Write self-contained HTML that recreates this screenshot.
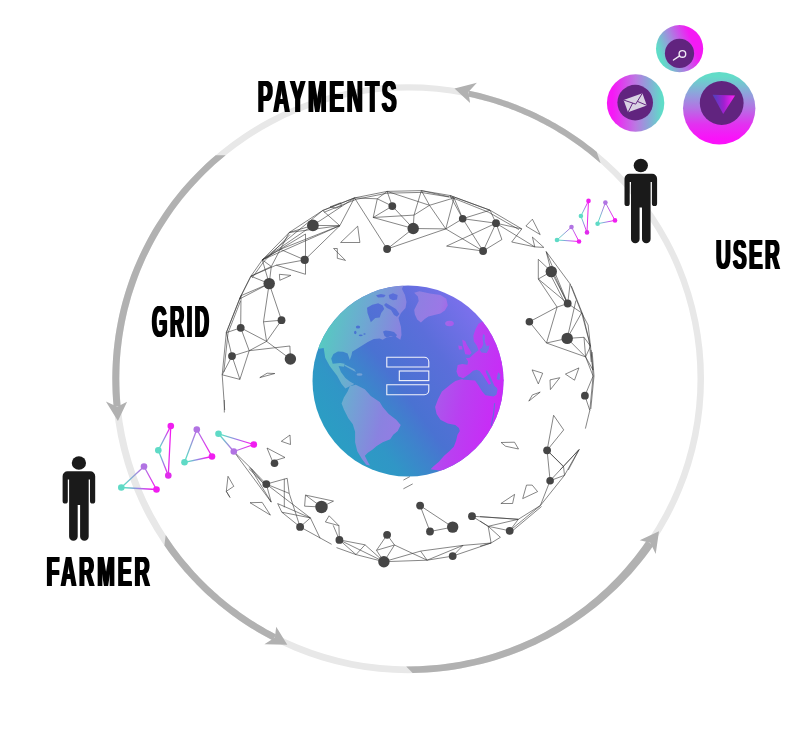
<!DOCTYPE html>
<html><head><meta charset="utf-8"><title>Grid</title>
<style>
html,body{margin:0;padding:0;background:#fff;}
body{width:800px;height:736px;overflow:hidden;}
svg{display:block;}
text{font-family:"Liberation Sans",sans-serif;font-weight:700;fill:#000;}
</style></head><body>
<svg width="800" height="736" viewBox="0 0 800 736">
<defs><linearGradient id="lg1" gradientUnits="userSpaceOnUse" x1="121.3" y1="487.5" x2="144" y2="466.5"><stop offset="0.15" stop-color="#5fdac6"/><stop offset="0.85" stop-color="#b173e3"/></linearGradient><linearGradient id="lg2" gradientUnits="userSpaceOnUse" x1="144" y1="466.5" x2="156.5" y2="489.5"><stop offset="0.15" stop-color="#b173e3"/><stop offset="0.85" stop-color="#f01ef0"/></linearGradient><linearGradient id="lg3" gradientUnits="userSpaceOnUse" x1="156.5" y1="489.5" x2="121.3" y2="487.5"><stop offset="0.15" stop-color="#f01ef0"/><stop offset="0.5" stop-color="#9c7ee6"/><stop offset="0.85" stop-color="#5fdac6"/></linearGradient><linearGradient id="lg4" gradientUnits="userSpaceOnUse" x1="158.3" y1="450.3" x2="170.8" y2="426"><stop offset="0.15" stop-color="#5fdac6"/><stop offset="0.5" stop-color="#9c7ee6"/><stop offset="0.85" stop-color="#f01ef0"/></linearGradient><linearGradient id="lg5" gradientUnits="userSpaceOnUse" x1="170.8" y1="426" x2="168.3" y2="475.5"><stop offset="0.15" stop-color="#f01ef0"/><stop offset="0.85" stop-color="#e02cec"/></linearGradient><linearGradient id="lg6" gradientUnits="userSpaceOnUse" x1="168.3" y1="475.5" x2="158.3" y2="450.3"><stop offset="0.15" stop-color="#e02cec"/><stop offset="0.5" stop-color="#9c7ee6"/><stop offset="0.85" stop-color="#5fdac6"/></linearGradient><linearGradient id="lg7" gradientUnits="userSpaceOnUse" x1="184.5" y1="462.3" x2="196.8" y2="429.5"><stop offset="0.15" stop-color="#5fdac6"/><stop offset="0.85" stop-color="#b173e3"/></linearGradient><linearGradient id="lg8" gradientUnits="userSpaceOnUse" x1="196.8" y1="429.5" x2="212" y2="456.5"><stop offset="0.15" stop-color="#b173e3"/><stop offset="0.85" stop-color="#f01ef0"/></linearGradient><linearGradient id="lg9" gradientUnits="userSpaceOnUse" x1="212" y1="456.5" x2="184.5" y2="462.3"><stop offset="0.15" stop-color="#f01ef0"/><stop offset="0.5" stop-color="#9c7ee6"/><stop offset="0.85" stop-color="#5fdac6"/></linearGradient><linearGradient id="lg10" gradientUnits="userSpaceOnUse" x1="218.5" y1="433.8" x2="233.8" y2="451.5"><stop offset="0.15" stop-color="#5fdac6"/><stop offset="0.85" stop-color="#b173e3"/></linearGradient><linearGradient id="lg11" gradientUnits="userSpaceOnUse" x1="233.8" y1="451.5" x2="253.8" y2="444.5"><stop offset="0.15" stop-color="#b173e3"/><stop offset="0.85" stop-color="#f01ef0"/></linearGradient><linearGradient id="lg12" gradientUnits="userSpaceOnUse" x1="253.8" y1="444.5" x2="218.5" y2="433.8"><stop offset="0.15" stop-color="#f01ef0"/><stop offset="0.5" stop-color="#9c7ee6"/><stop offset="0.85" stop-color="#5fdac6"/></linearGradient><linearGradient id="lg13" gradientUnits="userSpaceOnUse" x1="557" y1="240" x2="571.5" y2="227"><stop offset="0.15" stop-color="#5fdac6"/><stop offset="0.85" stop-color="#b173e3"/></linearGradient><linearGradient id="lg14" gradientUnits="userSpaceOnUse" x1="571.5" y1="227" x2="579" y2="241.5"><stop offset="0.15" stop-color="#b173e3"/><stop offset="0.85" stop-color="#f01ef0"/></linearGradient><linearGradient id="lg15" gradientUnits="userSpaceOnUse" x1="579" y1="241.5" x2="557" y2="240"><stop offset="0.15" stop-color="#f01ef0"/><stop offset="0.5" stop-color="#9c7ee6"/><stop offset="0.85" stop-color="#5fdac6"/></linearGradient><linearGradient id="lg16" gradientUnits="userSpaceOnUse" x1="580.9" y1="216" x2="588.5" y2="200.9"><stop offset="0.15" stop-color="#5fdac6"/><stop offset="0.5" stop-color="#9c7ee6"/><stop offset="0.85" stop-color="#f01ef0"/></linearGradient><linearGradient id="lg17" gradientUnits="userSpaceOnUse" x1="588.5" y1="200.9" x2="587" y2="232.4"><stop offset="0.15" stop-color="#f01ef0"/><stop offset="0.85" stop-color="#e02cec"/></linearGradient><linearGradient id="lg18" gradientUnits="userSpaceOnUse" x1="587" y1="232.4" x2="580.9" y2="216"><stop offset="0.15" stop-color="#e02cec"/><stop offset="0.5" stop-color="#9c7ee6"/><stop offset="0.85" stop-color="#5fdac6"/></linearGradient><linearGradient id="lg19" gradientUnits="userSpaceOnUse" x1="597.6" y1="223.7" x2="605.4" y2="202.6"><stop offset="0.15" stop-color="#5fdac6"/><stop offset="0.85" stop-color="#b173e3"/></linearGradient><linearGradient id="lg20" gradientUnits="userSpaceOnUse" x1="605.4" y1="202.6" x2="615" y2="220.4"><stop offset="0.15" stop-color="#b173e3"/><stop offset="0.85" stop-color="#f01ef0"/></linearGradient><linearGradient id="lg21" gradientUnits="userSpaceOnUse" x1="615" y1="220.4" x2="597.6" y2="223.7"><stop offset="0.15" stop-color="#f01ef0"/><stop offset="0.5" stop-color="#9c7ee6"/><stop offset="0.85" stop-color="#5fdac6"/></linearGradient><clipPath id="gclip"><circle cx="408.0" cy="381.0" r="95.5"/></clipPath><linearGradient id="ocean" gradientUnits="userSpaceOnUse" x1="325" y1="440" x2="490" y2="320"><stop offset="0" stop-color="#2a9fc3"/><stop offset="0.2" stop-color="#3096c6"/><stop offset="0.34" stop-color="#3e83cc"/><stop offset="0.45" stop-color="#4a72d2"/><stop offset="0.7" stop-color="#5b6eda"/><stop offset="0.95" stop-color="#7a70ec"/></linearGradient><linearGradient id="land" gradientUnits="userSpaceOnUse" x1="318" y1="360" x2="500" y2="400"><stop offset="0" stop-color="#58c8c2"/><stop offset="0.2" stop-color="#6ea8d2"/><stop offset="0.4" stop-color="#8a82e0"/><stop offset="0.58" stop-color="#9b78e6"/><stop offset="0.68" stop-color="#ac55ec"/><stop offset="0.8" stop-color="#b940f1"/><stop offset="1" stop-color="#ca2af7"/></linearGradient><filter id="fat" x="-5%" y="-5%" width="110%" height="110%"><feOffset in="SourceGraphic" dx="-0.75" result="a"/><feOffset in="SourceGraphic" dx="0.75" result="b"/><feOffset in="SourceGraphic" dx="-0.4" result="c"/><feOffset in="SourceGraphic" dx="0.4" result="d"/><feMerge><feMergeNode in="a"/><feMergeNode in="c"/><feMergeNode in="SourceGraphic"/><feMergeNode in="d"/><feMergeNode in="b"/></feMerge></filter><linearGradient id="c1" x1="0.02" y1="0.68" x2="0.98" y2="0.32"><stop offset="0.08" stop-color="#5fdcc8"/><stop offset="0.42" stop-color="#a884e0"/><stop offset="0.8" stop-color="#f41af4"/></linearGradient><linearGradient id="c2" x1="0" y1="0.5" x2="1" y2="0.5"><stop offset="0.1" stop-color="#f618f6"/><stop offset="0.5" stop-color="#bb78e2"/><stop offset="0.72" stop-color="#8ca4d8"/><stop offset="0.95" stop-color="#5fdcc8"/></linearGradient><linearGradient id="c3" x1="0.5" y1="0" x2="0.5" y2="1"><stop offset="0.06" stop-color="#62dcc8"/><stop offset="0.3" stop-color="#8fa2dc"/><stop offset="0.5" stop-color="#b472e4"/><stop offset="0.72" stop-color="#e232f0"/><stop offset="0.92" stop-color="#fa12fa"/></linearGradient><linearGradient id="c4" x1="0" y1="0" x2="1" y2="0"><stop offset="0.1" stop-color="#5a3cc0"/><stop offset="0.5" stop-color="#a020d0"/><stop offset="0.9" stop-color="#f020f0"/></linearGradient></defs>
<g id="ring"><path fill-rule="evenodd" fill="#e8e8e8" d="M112.3,378.7 a295.85,294.3 0 1 0 591.7,0 a295.85,294.3 0 1 0 -591.7,0z M119.3,378.4 a289.1,288.0 0 1 0 578.2,0 a289.1,288.0 0 1 0 -578.2,0z"/><polygon points="596.8,152 594.1,149.8 591.3,147.6 588.4,145.4 585.6,143.2 582.7,141.1 579.8,139 576.9,136.9 573.9,134.9 570.9,133 567.9,131 564.9,129.1 561.9,127.2 558.8,125.4 555.7,123.6 552.6,121.9 549.4,120.1 546.3,118.5 543.1,116.8 539.9,115.2 536.7,113.6 533.5,112.1 530.2,110.6 527,109.2 523.7,107.8 520.4,106.4 517.1,105.1 513.7,103.8 510.4,102.5 507,101.3 503.6,100.2 500.3,99 496.8,97.9 493.4,96.9 490,95.9 486.6,94.9 483.1,94 479.7,93.1 476.2,92.3 472.7,91.5 469.2,90.7 468,96.6 471.4,97.3 474.8,98.1 478.2,98.9 481.6,99.8 485,100.7 488.3,101.6 491.7,102.6 495,103.6 498.4,104.7 501.7,105.8 505,107 508.3,108.1 511.6,109.4 514.8,110.6 518.1,111.9 521.3,113.3 524.5,114.7 527.7,116.1 530.9,117.5 534.1,119 537.2,120.6 540.4,122.2 543.5,123.8 546.6,125.4 549.6,127.1 552.7,128.8 555.7,130.6 558.7,132.4 561.7,134.2 564.7,136.1 567.6,138 570.5,139.9 573.4,141.9 576.3,143.9 579.1,146 581.9,148.1 584.7,150.2 587.5,152.3 590.2,154.5 600.6,163.3" fill="#b1b1b1"/><polygon points="454.5,88.4 476.9,82.8 468.4,92 470.1,102.9" fill="#b1b1b1"/><polygon points="215.7,155.2 210.4,159.8 205.2,164.5 200.2,169.4 195.2,174.4 190.4,179.5 185.6,184.8 181,190.1 176.6,195.5 172.2,201.1 168,206.8 164,212.5 160.1,218.4 156.3,224.3 152.6,230.3 149.1,236.5 145.8,242.7 142.6,249 139.6,255.3 136.7,261.7 133.9,268.2 131.3,274.8 128.9,281.4 126.7,288.1 124.6,294.8 122.6,301.6 120.8,308.5 119.2,315.3 117.8,322.2 116.5,329.2 115.4,336.1 114.5,343.1 113.7,350.2 113.1,357.2 112.7,364.2 112.4,371.3 112.3,378.3 112.4,385.4 112.6,392.4 113,399.5 113.6,406.5 120.6,405.9 120,399 119.6,392.1 119.4,385.2 119.3,378.3 119.4,371.5 119.6,364.6 120,357.7 120.6,350.8 121.4,344 122.3,337.1 123.4,330.3 124.6,323.6 126,316.8 127.5,310.1 129.3,303.4 131.1,296.8 133.2,290.2 135.4,283.7 137.7,277.2 140.2,270.8 142.9,264.4 145.7,258.1 148.7,251.9 151.8,245.8 155,239.7 158.4,233.7 162,227.8 165.7,222 169.5,216.2 173.4,210.6 177.5,205.1 181.7,199.6 186.1,194.3 190.6,189.1 195.2,183.9 199.9,178.9 204.7,174 209.7,169.2 214.7,164.6 225.7,155.2" fill="#b1b1b1"/><polygon points="117.9,421 105.9,401.4 117.2,406.7 127.1,401.8" fill="#b1b1b1"/><polygon points="164.4,545.5 166.5,548.5 168.6,551.4 170.8,554.4 173,557.3 175.2,560.2 177.5,563 179.8,565.8 182.1,568.6 184.5,571.4 186.9,574.1 189.4,576.8 191.9,579.5 194.4,582.1 196.9,584.7 199.5,587.3 202.1,589.9 204.7,592.4 207.4,594.9 210.1,597.3 212.8,599.7 215.6,602.1 218.3,604.4 221.2,606.8 224,609 226.9,611.3 229.8,613.5 232.7,615.7 235.6,617.8 238.6,619.9 241.6,621.9 244.6,624 247.7,625.9 250.8,627.9 253.9,629.8 257,631.7 260.1,633.5 263.3,635.3 266.5,637.1 269.7,638.8 272.9,640.4 276,634.4 272.9,632.8 269.7,631.1 266.6,629.4 263.5,627.6 260.5,625.8 257.4,624 254.4,622.1 251.4,620.2 248.4,618.3 245.5,616.3 242.5,614.3 239.6,612.2 236.8,610.1 233.9,608 231.1,605.9 228.3,603.7 225.5,601.4 222.8,599.2 220,596.9 217.4,594.6 214.7,592.2 212.1,589.8 209.5,587.4 206.9,584.9 204.4,582.4 201.9,579.9 199.4,577.4 196.9,574.8 194.5,572.2 192.1,569.5 189.8,566.8 187.5,564.1 185.2,561.4 182.9,558.7 180.7,555.9 178.5,553.1 176.4,550.2 174.3,547.4 172.2,544.5 165.7,534.9" fill="#b1b1b1"/><polygon points="287.3,644.7 264.4,644.3 274.9,637.6 276.2,626.7" fill="#b1b1b1"/><polygon points="412.6,673 419.7,672.8 426.7,672.4 433.7,671.9 440.8,671.2 447.8,670.4 454.7,669.4 461.7,668.2 468.6,666.8 475.5,665.3 482.4,663.7 489.2,661.9 496,659.9 502.7,657.7 509.4,655.4 516,653 522.5,650.4 529,647.6 535.5,644.7 541.8,641.6 548.1,638.4 554.3,635 560.5,631.5 566.5,627.8 572.5,624 578.4,620.1 584.1,616 589.8,611.8 595.4,607.4 600.9,602.9 606.3,598.3 611.5,593.6 616.7,588.7 621.7,583.7 626.7,578.6 631.5,573.4 636.1,568 640.7,562.6 645.1,557 649.4,551.3 653.5,545.6 646.5,540.8 642.5,546.4 638.4,552 634.2,557.4 629.8,562.8 625.4,568.1 620.7,573.2 616,578.2 611.2,583.1 606.2,587.9 601.1,592.6 595.9,597.2 590.6,601.6 585.2,605.9 579.7,610.1 574.1,614.1 568.4,618 562.6,621.7 556.8,625.4 550.8,628.8 544.8,632.2 538.6,635.4 532.5,638.4 526.2,641.3 519.9,644 513.5,646.6 507,649 500.5,651.3 493.9,653.4 487.3,655.4 480.7,657.2 474,658.9 467.2,660.3 460.5,661.7 453.7,662.8 446.9,663.8 440,664.7 433.2,665.3 426.3,665.8 419.4,666.2 406.2,666.4" fill="#b1b1b1"/><polygon points="659,531.3 655.7,554.1 650.4,542.8 639.7,540.3" fill="#b1b1b1"/></g>
<g id="mesh" fill="none" stroke="#343434" stroke-width="0.6" stroke-linejoin="round"><polyline points="239.5,299 250.9,276.2 262.3,259.9 289.2,232.5 322.7,210.5 354.5,197.9 387.1,191.4 421.4,190.6 450,195.5 490,210.2 521.8,228.9"/><polyline points="262.3,259.9 312.9,225.4"/><polyline points="262.3,259.9 339.8,225.7"/><polyline points="262.3,259.9 322.7,210.5"/><polyline points="289.2,232.5 312.9,225.4"/><polyline points="322.7,210.5 339.8,225.7"/><polyline points="312.9,225.4 339.8,225.7"/><polyline points="312.9,225.4 354.5,197.9"/><polyline points="280.3,249.3 339.8,225.7"/><polyline points="305.5,234 305.5,274.3"/><polyline points="339.8,225.7 304.7,259.9"/><polyline points="280.3,249.3 304.7,259.9"/><polyline points="304.7,259.9 276.2,265.2 250.9,276.2"/><polyline points="276.2,265.2 305.5,274.3"/><polyline points="280.3,249.3 271.3,266.5 269.2,283.6"/><polyline points="262.3,259.9 271.3,266.5"/><polyline points="262.3,259.9 269.2,283.6"/><polyline points="269.2,283.6 250.9,276.2"/><polyline points="269.2,283.6 239.5,299"/><polyline points="289.2,232.5 280.3,249.3"/><polyline points="262.3,259.9 280.3,249.3"/><polyline points="354.5,197.9 387.1,249"/><polyline points="354.5,197.9 339.8,225.7"/><polyline points="322.7,210.5 354.5,197.9"/><polyline points="377.3,198.8 354.5,197.9"/><polyline points="377.3,198.8 387.1,191.4"/><polyline points="377.3,198.8 373.2,217.5"/><polyline points="373.2,217.5 392.3,206.1"/><polyline points="387.1,191.4 392.3,206.1"/><polyline points="377.3,198.8 392.3,206.1"/><polyline points="392.3,206.1 413.2,228.5"/><polyline points="373.2,217.5 414,215.1"/><polyline points="373.2,217.5 413.2,228.5"/><polyline points="414,215.1 413.2,228.5"/><polyline points="421.4,190.6 414,215.1"/><polyline points="421.4,190.6 429.5,205.3"/><polyline points="429.5,205.3 414,215.1"/><polyline points="387.1,191.4 429.5,205.3"/><polyline points="413.2,228.5 445.8,228.9"/><polyline points="413.2,228.5 387.1,249"/><polyline points="387.1,249 445.8,228.9"/><polyline points="445.8,228.9 454,197.9"/><polyline points="429.5,205.3 445.8,228.9"/><polyline points="454,197.9 462.7,218.7"/><polyline points="421.4,190.6 454,197.9"/><polyline points="429.5,205.3 454,197.9"/><polyline points="450,195.5 462.7,218.7"/><polyline points="462.7,218.7 496,223.2"/><polyline points="462.7,218.7 483.1,251"/><polyline points="496,223.2 483.1,251"/><polyline points="496,223.2 501.9,239.5 483.1,251"/><polyline points="496,223.2 521.8,228.9"/><polyline points="490,210.2 496,223.2"/><polyline points="462.7,218.7 490,210.2"/><polyline points="483.1,251 445.8,228.9"/><polyline points="462.7,218.7 445.8,228.9"/><polyline points="450,195.5 490,210.2"/><polyline points="521.8,228.9 511.7,242 534.8,246.9 532.4,237.1 543.8,247.4 534.8,246.9"/><polyline points="496,223.2 534.8,246.9"/><polyline points="546.2,251.6 570.1,283.9 581.6,312.8 590.5,346.2 593,370"/><polyline points="546.2,251.6 551.3,271.6"/><polyline points="551.3,271.6 567.7,303.5"/><polyline points="538.3,259.3 538.3,279"/><polyline points="538.3,279 551.3,271.6"/><polyline points="538.3,259.3 551.3,271.6"/><polyline points="538.3,279 557.1,307.1"/><polyline points="538.3,279 567.7,303.5"/><polyline points="567.7,303.5 557.1,307.1"/><polyline points="557.1,307.1 529.4,321.8"/><polyline points="529.4,321.8 546.5,343"/><polyline points="557.1,307.1 546.5,343"/><polyline points="546.5,343 567.2,338.4"/><polyline points="546.5,343 585.6,356.9"/><polyline points="567.2,338.4 585.6,356.9"/><polyline points="567.2,338.4 584,337.3"/><polyline points="567.2,338.4 581.6,312.8"/><polyline points="567.7,303.5 581.6,312.8"/><polyline points="570.1,283.9 567.7,303.5"/><polyline points="585.6,356.9 590.5,346.2"/><polyline points="585.6,356.9 593,370"/><polyline points="581.6,312.8 588.1,325 590.5,346.2"/><polyline points="584,337.3 590.5,346.2"/><polyline points="584,337.3 585.6,356.9"/><polyline points="585.6,356.9 593.1,376.1"/><polyline points="591.1,350 593.1,376.1"/><polyline points="593.1,376.1 584.9,395.7"/><polyline points="593.1,376.1 589.8,410.4 585.4,428.6"/><polyline points="584.9,395.7 589.8,410.4"/><polyline points="547.1,450.3 553.6,415.3 563.7,429.9 547.1,450.3"/><polyline points="547.1,450.3 563.4,466.6"/><polyline points="547.1,450.3 550.1,480.7"/><polyline points="547.1,450.3 563.5,466.3"/><polyline points="578.7,450 563.5,466.3 550.1,480.7"/><polyline points="578.7,450 564.5,475.3 550.1,480.7"/><polyline points="563.5,466.3 564.5,475.3"/><polyline points="550.1,480.7 540.4,505.5"/><polyline points="564.5,475.3 540.4,505.5"/><polyline points="540.4,505.5 518.3,519.3"/><polyline points="540.4,505.5 509.7,530.8"/><polyline points="518.3,519.3 480,516.6"/><polyline points="518.3,519.3 488.2,526.3"/><polyline points="488.2,526.3 509.7,530.8"/><polyline points="488.2,526.3 500.4,537.3 491.1,543 488.2,526.3"/><polyline points="491.1,543 480,546.2"/><polyline points="488.2,526.3 480,521"/><polyline points="509.7,530.8 518.3,519.3"/><polyline points="420.1,505.6 452.7,527.1"/><polyline points="420.1,505.6 430,531.5"/><polyline points="430,531.5 452.7,527.1"/><polyline points="472,516.2 518.3,519.3"/><polyline points="472,516.2 488.2,526.3"/><polyline points="491.1,543 452.7,556.1"/><polyline points="491.1,543 463,545.4 420.6,551.1"/><polyline points="463,545.4 452.7,556.1"/><polyline points="463,545.4 427.1,560.2"/><polyline points="387.1,534.8 394.5,545"/><polyline points="387.1,534.8 376.5,550.3"/><polyline points="394.5,545 383.9,561.7"/><polyline points="376.5,550.3 383.9,561.7"/><polyline points="394.5,545 427.1,560.2"/><polyline points="376.5,550.3 394.5,545"/><polyline points="383.9,561.7 427.1,560.2"/><polyline points="420.6,551.1 427.1,560.2"/><polyline points="452.7,556.1 427.1,560.2"/><polyline points="420.6,551.1 383.9,561.7"/><polyline points="233.8,451.5 250,467.3 266.3,484.1"/><polyline points="250,467.3 271.2,502.1"/><polyline points="266.3,484.1 271.2,502.1"/><polyline points="266.3,484.1 287.2,478.3 289.2,493.4 266.3,484.1"/><polyline points="266.3,484.1 310.4,517.9"/><polyline points="277.7,503.6 281.8,512.2 300.1,526.9"/><polyline points="277.7,503.6 310.4,517.9"/><polyline points="281.8,512.2 310.4,517.9"/><polyline points="300.1,526.9 310.4,517.9"/><polyline points="289.2,493.4 300.1,526.9"/><polyline points="310.4,517.9 320.1,538.3"/><polyline points="300.1,526.9 331.6,544.3"/><polyline points="305.5,495.1 333.5,501.1 321.5,507"/><polyline points="305.5,495.1 304.6,506.2 321.5,507"/><polyline points="305.5,495.1 321.5,507"/><polyline points="329.1,515.8 325.4,522 338.9,525.6 329.1,515.8"/><polyline points="333.2,525.3 339.4,539.9"/><polyline points="338.9,525.6 339.4,539.9"/><polyline points="339.4,539.9 365,544.8 356,554.6 339.4,539.9"/><polyline points="336.5,547.6 356,554.6"/><polyline points="356,554.6 383.9,561.7"/><polyline points="339.4,539.9 383.9,561.7"/><polyline points="365,544.8 383.9,561.7"/><polyline points="269.2,283.6 281.5,320.2"/><polyline points="269.2,283.6 263.5,321.8"/><polyline points="281.5,320.2 263.5,321.8"/><polyline points="263.5,321.8 266.6,341.4"/><polyline points="281.5,320.2 266.6,341.4"/><polyline points="240.7,327.8 266.6,341.4"/><polyline points="266.6,341.4 290.4,359"/><polyline points="266.6,341.4 249.2,350.7 232,356.1"/><polyline points="240.7,327.8 249.2,350.7 239.9,379.4"/><polyline points="249.2,350.7 289.9,346 290.4,359"/><polyline points="240.7,327.8 241,295.7"/><polyline points="240.7,327.8 226.3,332.7"/><polyline points="226.3,332.7 241,295.7"/><polyline points="226.3,332.7 222.2,374.8 224.7,410"/><polyline points="232,356.1 226.3,332.7"/><polyline points="232,356.1 222.2,374.8"/><polyline points="232,356.1 239.9,379.4"/><polyline points="222.2,374.8 239.9,379.4"/><polyline points="241,295.7 269.2,283.6"/><polyline points="241,295.7 239.5,299"/><polyline points="239.5,299 226.3,332.7"/><polyline points="241,295.7 250.9,276.2"/><polyline points="262.3,259.9 305.5,234"/><polyline points="567.2,338.4 575.9,300.6"/><polyline points="546.2,251.6 567.7,303.5"/><polyline points="250.9,276.2 271.3,266.5"/><polyline points="289.2,232.5 339.8,225.7"/><polyline points="446.6,246.1 496,223.2"/><polyline points="446.6,246.1 483.1,251"/><polyline points="233.8,451.5 271.2,502.1"/><polygon points="279.4,274.3 290.9,275.4 279.8,280.3"/><polygon points="330,206.9 340.6,202.8 341.4,206.1 335.7,208.1"/><polygon points="340.6,242.5 357.7,226.2 359.9,242.5"/><polygon points="333.6,248.5 337.3,248.5 337.3,258.3 345.5,260.4"/><polygon points="525.9,226 532.4,219.2 540.2,234.6"/><polygon points="532.1,369.9 542.7,373.2 538.3,383.9"/><polygon points="550,379.9 559.8,377.7 550.4,389.6"/><polygon points="565.4,374.1 578.9,367.9 574.5,380.2"/><polygon points="528.8,401.1 532.4,394.9 540.2,392.1"/><polygon points="501.1,442.5 514.5,442.2 518.5,449 505.5,446.2"/><polygon points="522.7,498.6 526.5,485.1 532.2,485.1 537.6,491.6"/><polygon points="500.9,503.5 514.6,494.4 512.6,503.5"/><polygon points="250,502.7 262.2,502.4 270.4,515.1"/><polygon points="281.3,441.3 290,435 290.5,444.5"/><polygon points="267,448 285,457.5 272.5,461.3"/><polyline points="228,476.3 233.8,486.3 226.3,491.3 230,497.5 226.3,491.3 228,476.3"/><polygon points="259.8,377.6 267.1,373.2 274.8,373.5"/><polyline points="403.4,480.1 410,476.5"/><polyline points="403.4,488.8 412.7,483.9"/><polyline points="224.3,400 224.3,412.5"/><polyline points="284.3,478.8 284.3,507.3"/><polyline points="579.4,449.2 560,470"/><polyline points="579.4,449.2 568.3,470"/><polyline points="452,197.6 488.5,212.2 519,229.6"/><polyline points="553.2,272.6 566.6,301.8"/><polyline points="549.8,273.4 565.6,304.2"/><polyline points="571.4,286 582.8,314.5 589,340 591.2,362"/><polyline points="324,212.3 345.5,203.6 355,199.8"/><polyline points="240.5,301 228,333 223.8,372"/><polyline points="252,278 263.5,262 290,234.5"/><polyline points="355,199.6 387,193.2 421,192.4 449,197"/><polyline points="251.5,468.8 265.5,486"/><polyline points="248.8,468.5 263.8,483.5"/><polyline points="592.2,352 594,376 590.8,409"/><polyline points="541.5,506.5 511,532"/></g>
<g id="meshdots" fill="#454545"><circle cx="312.9" cy="225.4" r="5.9"/><circle cx="304.7" cy="259.9" r="4.1"/><circle cx="269.2" cy="283.6" r="5.7"/><circle cx="392.3" cy="206.1" r="3.9"/><circle cx="413.2" cy="228.5" r="5.7"/><circle cx="387.1" cy="249" r="3.9"/><circle cx="462.7" cy="218.7" r="3.8"/><circle cx="496" cy="223.2" r="3.9"/><circle cx="483.1" cy="251" r="3.9"/><circle cx="551.3" cy="271.6" r="5.7"/><circle cx="567.7" cy="303.5" r="3.9"/><circle cx="529.4" cy="321.8" r="3.8"/><circle cx="567.2" cy="338.4" r="5.7"/><circle cx="584.9" cy="395.7" r="3.9"/><circle cx="547.1" cy="450.3" r="3.9"/><circle cx="550.1" cy="480.7" r="3.8"/><circle cx="509.7" cy="530.8" r="3.9"/><circle cx="420.1" cy="505.6" r="3.9"/><circle cx="452.7" cy="527.1" r="5.7"/><circle cx="430" cy="531.5" r="3.9"/><circle cx="472" cy="516.2" r="3.9"/><circle cx="387.1" cy="534.8" r="3.9"/><circle cx="383.9" cy="561.7" r="5.7"/><circle cx="452.7" cy="556.1" r="3.9"/><circle cx="274.5" cy="463.3" r="3.8"/><circle cx="266.3" cy="484.1" r="3.9"/><circle cx="321.5" cy="507" r="6.2"/><circle cx="300.1" cy="526.9" r="3.9"/><circle cx="339.4" cy="539.9" r="3.9"/><circle cx="281.5" cy="320.2" r="3.9"/><circle cx="240.7" cy="327.8" r="3.9"/><circle cx="232" cy="356.1" r="3.9"/><circle cx="290.4" cy="359" r="5.7"/></g>
<g id="globe" clip-path="url(#gclip)"><circle cx="408.0" cy="381.0" r="96.5" fill="url(#ocean)"/><g fill="url(#land)"><polygon points="412.5,284 300,270 300,352 323.7,348 325.2,357.7 329.7,366 337.1,375.7 341.6,384 345.4,388.5 349.8,386.2 354.3,384 349.8,381.6 345.4,377.9 340.9,371.9 338.6,366 343.9,366.7 344.6,363.7 340.1,363 332.7,363.7 331.2,358.5 333.4,354 337.9,351.4 343.1,351.7 347.6,353.5 349.8,360 351.6,354.7 352.1,351.7 355.8,349.5 361.8,345.8 367.8,342 373.8,339 379.7,338.6 382.7,339.8 386.5,337.5 394.7,336 400.3,339.8 401.5,335 401,327 398.5,318 401,313 405.5,308 406.5,302 405,295 402,289 404,284"/><polygon points="414.2,292.7 419.4,291.2 429.9,293.5 440.4,294.9 446.3,298.7 447.8,305.4 444.8,310.6 440.4,313.6 434.4,315.1 428.4,316.6 424.7,318.9 420.9,322.6 417.2,319.6 414.9,314.4 414.2,309.9 416.4,305.4 418.7,300.9 417.9,296.4"/><polygon points="349.8,386.2 355.8,384.7 364.8,389.2 370.8,395.9 379.7,401.9 382.7,407.1 388.7,413.9 396.2,419.8 400.7,425.1 397.7,431.1 393.2,434.8 390.2,439.3 382.7,442.3 376.7,446 372.3,449.7 367.8,452.7 364.8,455.7 367.8,461.7 370,465.4 366.3,464.7 361.8,458.7 357.3,451.2 355.1,442.3 355.1,431.8 352.8,424.3 348.3,418.3 343.9,409.4 341.6,403.4 343.9,397.4 347.6,391.4"/><polygon points="461.2,379.3 455.4,381 450.8,384.3 445,388.9 441.9,391.4 438.1,398.9 435.1,407.1 436.6,413.9 440.4,419.8 447.8,423.6 455.3,425.1 459,428.1 459.8,431.1 457.5,434.8 456.1,440.8 453.8,446.7 449.3,451.2 444.1,455.7 438.9,461.7 433.6,466.2 430.6,469.2 446,471.5 520,470 520,379.3"/><polygon points="478.5,323.7 475.6,328.9 473.3,335.8 473.9,341.6 476.8,345.6 478.5,350.2 475,353.1 472.1,355.4 469.8,357.7 465.8,358.3 468.1,361.2 467.5,364.7 462.3,364.1 457.7,364.9 456.5,371.6 458.3,376.2 462.3,377.9 470,381 520,381 520,320 492,316"/><polygon points="462.3,339.8 465.2,341 466.9,345 469.8,349.6 471.6,353.1 469.8,354.8 465.2,354.3 464.1,349.6 462.9,345"/><polygon points="458.3,345.6 462.1,346.2 462.5,349.6 458.9,349.6"/><ellipse cx="449.5" cy="323.5" rx="4.3" ry="2.7"/><path d="M344.6,364.5 L354.3,369.3 L356,372 L353,370.5 L344.5,365.8z"/><ellipse cx="359.5" cy="374.5" rx="3" ry="1.2"/></g><g fill="url(#ocean)"><polygon points="367,307.7 372.3,304.7 378.2,303.2 382.7,305.4 384.2,309.1 381.2,312.9 379.7,317.4 375.3,318.1 370.8,322.2 369.3,318.1 367.5,312.9"/><polygon points="383,331.5 385.5,330.5 390,331 394,332 397,335 395.5,337.5 391,336 387,337.5 384.5,336"/><polygon points="483.1,334.1 484.8,335.2 484.8,341.6 486.6,346.2 489.5,345.3 488.6,349.6 486.6,353.1 481.4,352.5 479.6,349.6 482,347.6 483.3,343.9 482.5,338.1"/><polygon points="498.1,372.2 500.4,374.5 499.5,380.2 496.7,379.1"/><polygon points="463,378.6 466.5,376 470,373.5 473,370.8 476.8,369.8 479.6,371 483.1,375.5 486.6,381 488.9,384.8 491,383.5 488.2,377.6 486,372.6 485.6,370.2 487.2,370.4 490,375.5 492.3,381 494.5,386 497,388 497.5,390.1 496.4,394.7 493.5,396.4 485.4,395.3 482,391.2 478.5,385.4 475,380.6 468.1,379.9 463,379.6"/><polygon points="384,305 387,308 391,310 394,315 397,316.8 399.5,314 396,309 391,306 386,303"/><polygon points="376,295.2 381,294 385.7,295 384,297.2 378,297.5"/><polygon points="388.7,295 393,293.2 397.7,295 397,299.5 393,300.2 389.5,298.5"/><ellipse cx="358" cy="327" rx="2.2" ry="1.6"/><ellipse cx="355.3" cy="332.5" rx="1.2" ry="1.8"/><ellipse cx="360.7" cy="335.3" rx="2" ry="0.9"/><ellipse cx="364.5" cy="334" rx="1.2" ry="0.8"/><path d="M494.6,403.2 Q494.2,414 491.3,425.6" fill="none" stroke="url(#ocean)" stroke-width="1.1"/></g></g><g fill="none" stroke="#f4f4fb" stroke-width="1.1"><path d="M386.8,357.2 H424.3 a4.5,4.5 0 0 1 4.5,4.5 V367 H386.8z"/><rect x="399.3" y="371" width="29.5" height="9.6"/><path d="M386.8,384.8 H428.8 V390.2 a4.5,4.5 0 0 1 -4.5,4.5 H386.8z"/></g>
<g id="tris" stroke-linecap="round"><line x1="121.3" y1="487.5" x2="144" y2="466.5" stroke="url(#lg1)" stroke-width="1.3"/><line x1="144" y1="466.5" x2="156.5" y2="489.5" stroke="url(#lg2)" stroke-width="1.3"/><line x1="156.5" y1="489.5" x2="121.3" y2="487.5" stroke="url(#lg3)" stroke-width="1.3"/><circle cx="121.3" cy="487.5" r="3.3" fill="#5fdac6"/><circle cx="144" cy="466.5" r="3.3" fill="#b173e3"/><circle cx="156.5" cy="489.5" r="3.3" fill="#f01ef0"/><line x1="158.3" y1="450.3" x2="170.8" y2="426" stroke="url(#lg4)" stroke-width="1.3"/><line x1="170.8" y1="426" x2="168.3" y2="475.5" stroke="url(#lg5)" stroke-width="1.3"/><line x1="168.3" y1="475.5" x2="158.3" y2="450.3" stroke="url(#lg6)" stroke-width="1.3"/><circle cx="158.3" cy="450.3" r="3.3" fill="#5fdac6"/><circle cx="170.8" cy="426" r="3.3" fill="#f01ef0"/><circle cx="168.3" cy="475.5" r="3.3" fill="#e02cec"/><line x1="184.5" y1="462.3" x2="196.8" y2="429.5" stroke="url(#lg7)" stroke-width="1.3"/><line x1="196.8" y1="429.5" x2="212" y2="456.5" stroke="url(#lg8)" stroke-width="1.3"/><line x1="212" y1="456.5" x2="184.5" y2="462.3" stroke="url(#lg9)" stroke-width="1.3"/><circle cx="184.5" cy="462.3" r="3.3" fill="#5fdac6"/><circle cx="196.8" cy="429.5" r="3.3" fill="#b173e3"/><circle cx="212" cy="456.5" r="3.3" fill="#f01ef0"/><line x1="218.5" y1="433.8" x2="233.8" y2="451.5" stroke="url(#lg10)" stroke-width="1.3"/><line x1="233.8" y1="451.5" x2="253.8" y2="444.5" stroke="url(#lg11)" stroke-width="1.3"/><line x1="253.8" y1="444.5" x2="218.5" y2="433.8" stroke="url(#lg12)" stroke-width="1.3"/><circle cx="218.5" cy="433.8" r="3.3" fill="#5fdac6"/><circle cx="233.8" cy="451.5" r="3.3" fill="#b173e3"/><circle cx="253.8" cy="444.5" r="3.3" fill="#f01ef0"/><line x1="557" y1="240" x2="571.5" y2="227" stroke="url(#lg13)" stroke-width="1.0"/><line x1="571.5" y1="227" x2="579" y2="241.5" stroke="url(#lg14)" stroke-width="1.0"/><line x1="579" y1="241.5" x2="557" y2="240" stroke="url(#lg15)" stroke-width="1.0"/><circle cx="557" cy="240" r="2.3" fill="#5fdac6"/><circle cx="571.5" cy="227" r="2.3" fill="#b173e3"/><circle cx="579" cy="241.5" r="2.3" fill="#f01ef0"/><line x1="580.9" y1="216" x2="588.5" y2="200.9" stroke="url(#lg16)" stroke-width="1.0"/><line x1="588.5" y1="200.9" x2="587" y2="232.4" stroke="url(#lg17)" stroke-width="1.0"/><line x1="587" y1="232.4" x2="580.9" y2="216" stroke="url(#lg18)" stroke-width="1.0"/><circle cx="580.9" cy="216" r="2.3" fill="#5fdac6"/><circle cx="588.5" cy="200.9" r="2.3" fill="#f01ef0"/><circle cx="587" cy="232.4" r="2.3" fill="#e02cec"/><line x1="597.6" y1="223.7" x2="605.4" y2="202.6" stroke="url(#lg19)" stroke-width="1.0"/><line x1="605.4" y1="202.6" x2="615" y2="220.4" stroke="url(#lg20)" stroke-width="1.0"/><line x1="615" y1="220.4" x2="597.6" y2="223.7" stroke="url(#lg21)" stroke-width="1.0"/><circle cx="597.6" cy="223.7" r="2.3" fill="#5fdac6"/><circle cx="605.4" cy="202.6" r="2.3" fill="#b173e3"/><circle cx="615" cy="220.4" r="2.3" fill="#f01ef0"/></g>
<g fill="#1a1a1a" transform="translate(78.9,462.4)"><ellipse cx="0" cy="0.5" rx="7.15" ry="6.75"/><path d="M-11.3,8.8 H11.3 a5,5 0 0 1 5,5 V38.5 a2.6,2.6 0 0 1 -5.2,0 V17 H9.8 V74.0 a4.3,4.3 0 0 1 -8.6,0 V42.5 H-1.2 V74.0 a4.3,4.3 0 0 1 -8.6,0 V17 H-11.1 V38.5 a2.6,2.6 0 0 1 -5.2,0 V13.8 a5,5 0 0 1 5,-5 z"/></g>
<g fill="#1a1a1a" transform="translate(640.8,165)"><ellipse cx="0" cy="0.5" rx="7.15" ry="6.75"/><path d="M-11.3,8.8 H11.3 a5,5 0 0 1 5,5 V38.5 a2.6,2.6 0 0 1 -5.2,0 V17 H9.8 V74.0 a4.3,4.3 0 0 1 -8.6,0 V42.5 H-1.2 V74.0 a4.3,4.3 0 0 1 -8.6,0 V17 H-11.1 V38.5 a2.6,2.6 0 0 1 -5.2,0 V13.8 a5,5 0 0 1 5,-5 z"/></g>
<circle cx="679.6" cy="48.7" r="23.6" fill="url(#c1)"/><circle cx="679.5" cy="53.4" r="14.6" fill="#61247f"/>
<circle cx="682.4" cy="53.9" r="3.3" fill="none" stroke="#f0eaf5" stroke-width="1.4"/><line x1="679.6" y1="55.9" x2="673.5" y2="60" stroke="#f0eaf5" stroke-width="1.5" stroke-linecap="round"/>
<circle cx="635.6" cy="103" r="28.7" fill="url(#c2)"/><circle cx="635.2" cy="102.6" r="17.8" fill="#61247f"/>
<g transform="translate(635.2,102.7) rotate(-20)"><rect x="-10" y="-6.5" width="20" height="13" fill="#d9d2e3"/><path d="M-10,-6.5 L0,1.5 L10,-6.5 M-10,6.5 L-2.5,-0.5 M10,6.5 L2.5,-0.5" fill="none" stroke="#61247f" stroke-width="0.9"/></g>
<circle cx="719.2" cy="108.3" r="36.2" fill="url(#c3)"/><circle cx="721.7" cy="103" r="21.9" fill="#61247f"/>
<polygon points="712.6,94.8 735.1,95.5 723.2,114" fill="url(#c4)"/>
<g filter="url(#fat)"><text transform="translate(257.7,111.6) scale(0.51,1)" font-size="43.6" textLength="272.5" lengthAdjust="spacing">PAYMENTS</text></g>
<g filter="url(#fat)"><text transform="translate(152.0,336.6) scale(0.45,1)" font-size="43.8" textLength="126.7" lengthAdjust="spacing">GRID</text></g>
<g filter="url(#fat)"><text transform="translate(716.0,268.7) scale(0.47,1)" font-size="43.3" textLength="135.7" lengthAdjust="spacing">USER</text></g>
<g filter="url(#fat)"><text transform="translate(46.4,585.8) scale(0.49,1)" font-size="43.0" textLength="211" lengthAdjust="spacing">FARMER</text></g>
</svg></body></html>
